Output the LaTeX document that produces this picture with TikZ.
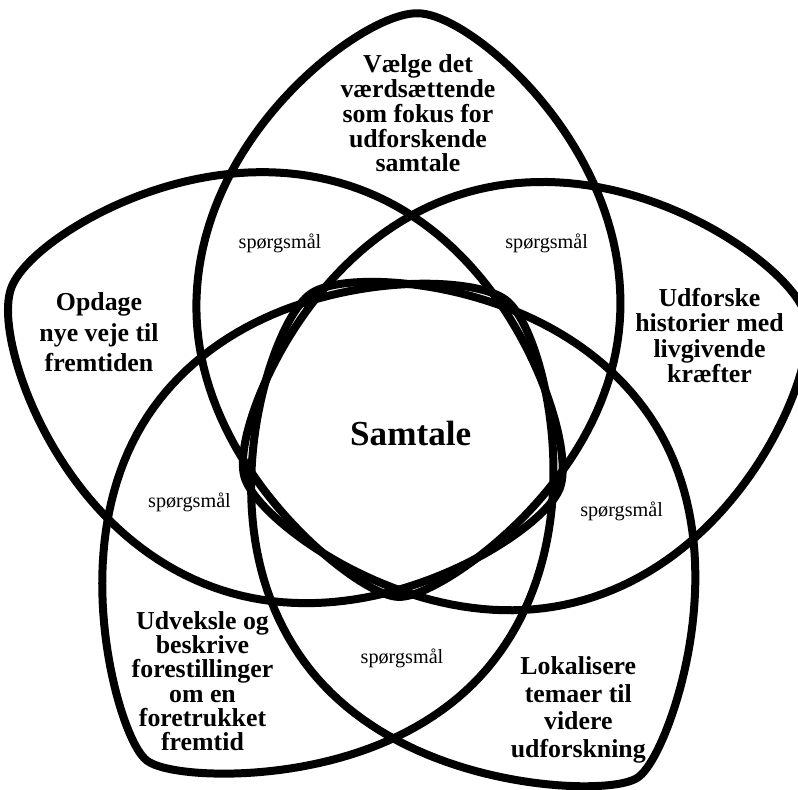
\documentclass[tikz,border=0pt]{standalone}
\usepackage{fontspec}
\setmainfont{Liberation Serif}

\begin{document}
\begin{tikzpicture}[x=0.02cm,y=-0.02cm,
  lobe/.style={line width=0.16cm,line join=round},
  topic/.style={font=\fontsize{14.7}{#1}\selectfont\bfseries,align=center,inner sep=0pt,anchor=north},
  ask/.style={font=\fontsize{11.5}{13}\selectfont,inner sep=0pt,anchor=base}]
\useasboundingbox (0,0) rectangle (798,789);
\clip (0,0) rectangle (798,789);
% five pointed lobes around the centre (angle / outer taper / inner taper)
\foreach \ang/\lo/\li in {88/0.5/0.6,160/0.5/0.55,232/0.65/0.55,304/0.65/0.55,16/0.5/0.55}
  \draw[lobe,shift={(404,431)},rotate=\ang]
    plot[domain=0:360,samples=181,variable=\t]
    ({126+292*cos(\t)},{212*sin(\t)*(1-(cos(\t)>0?\lo:\li)*(1-abs(sin(\t))))}) -- cycle;
% outer texts
\node[topic=14.1] (vaelge) at (418,54.5) {Vælge det\\værdsættende\\som fokus for\\udforskende\\samtale};
\node[topic=17.5] (opdage) at (99,292) {Opdage\\nye veje til\\fremtiden};
\node[topic=14.4] (udforske) at (709.5,288) {Udforske\\historier med\\livgivende\\kræfter};
\node[topic=13.8] (udveksle) at (202.5,611) {Udveksle og\\beskrive\\forestillinger\\om en\\foretrukket\\fremtid};
\node[topic=15.6] (lokalisere) at (578.3,656.5) {Lokalisere\\temaer til\\videre\\udforskning};
\node[font=\fontsize{20}{24}\selectfont\bfseries,inner sep=0pt,anchor=base] (samtale) at (410.7,445.7) {Samtale};
% question labels
\node[ask] (q1) at (280,248.3) {spørgsmål};
\node[ask] (q2) at (546.7,248.3) {spørgsmål};
\node[ask] (q3) at (189.5,507) {spørgsmål};
\node[ask] (q4) at (621.6,516.2) {spørgsmål};
\node[ask] (q5) at (402,663) {spørgsmål};
\end{tikzpicture}
\end{document}
